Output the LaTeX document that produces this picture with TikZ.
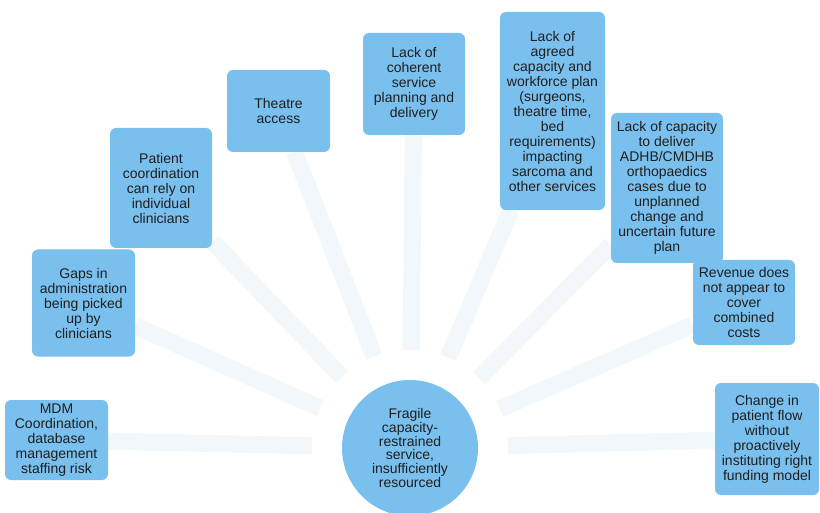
\documentclass[tikz,border=0pt]{standalone}
\usepackage{fontspec}
\setmainfont{Liberation Sans}
\usetikzlibrary{backgrounds}
\definecolor{boxblue}{RGB}{122,192,238}
\definecolor{spokec}{RGB}{241,247,250}
\definecolor{txt}{RGB}{30,30,30}
\begin{document}
\begin{tikzpicture}[x=1pt,y=-1pt,
  box/.style={fill=boxblue, rounded corners=6pt, align=center, inner sep=0pt, text=txt,
    font=\fontsize{14}{15}\selectfont},
  hub/.style={circle, fill=boxblue, minimum size=136pt, inner sep=0pt, align=center, text=txt,
    font=\fontsize{14}{13.8}\selectfont},
  spoke/.style={draw=spokec, line width=17pt, shorten <=30pt}]
\useasboundingbox (0,0) rectangle (820,513);

\node[hub] (c) at (410,448) {Fragile\\capacity-\\restrained\\service,\\insufficiently\\resourced};

\node[box, minimum width=103pt, minimum height=80pt] (b1) at (56.5,440)
  {MDM\\Coordination,\\database\\management\\staffing risk};
\node[box, minimum width=103pt, minimum height=107pt] (b2) at (83.5,303)
  {Gaps in\\administration\\being picked\\up by\\clinicians};
\node[box, minimum width=102pt, minimum height=120pt] (b3) at (161,188)
  {Patient\\coordination\\can rely on\\individual\\clinicians};
\node[box, minimum width=103pt, minimum height=82pt] (b4) at (278.5,111)
  {Theatre\\access};
\node[box, minimum width=102pt, minimum height=102pt] (b5) at (414,84)
  {Lack of\\coherent\\service\\planning and\\delivery};
\node[box, minimum width=105pt, minimum height=198pt] (b6) at (552.5,111)
  {Lack of\\agreed\\capacity and\\workforce plan\\(surgeons,\\theatre time,\\bed\\requirements)\\impacting\\sarcoma and\\other services};
\node[box, minimum width=112pt, minimum height=150pt] (b7) at (667,188)
  {Lack of capacity\\to deliver\\ADHB/CMDHB\\orthopaedics\\cases due to\\unplanned\\change and\\uncertain future\\plan};
\node[box, minimum width=102pt, minimum height=85pt] (b8) at (744,302.5)
  {Revenue does\\not appear to\\cover\\combined\\costs};
\node[box, minimum width=104pt, minimum height=112pt] (b9) at (767,439)
  {Change in\\patient flow\\without\\proactively\\instituting right\\funding model};

\begin{scope}[on background layer]
  \fill[white] (0,0) rectangle (820,513);
  \foreach \b in {b1,b2,b3,b4,b5,b6,b7,b8,b9}
    \draw[spoke] (c) -- (\b);
\end{scope}
\end{tikzpicture}
\end{document}
